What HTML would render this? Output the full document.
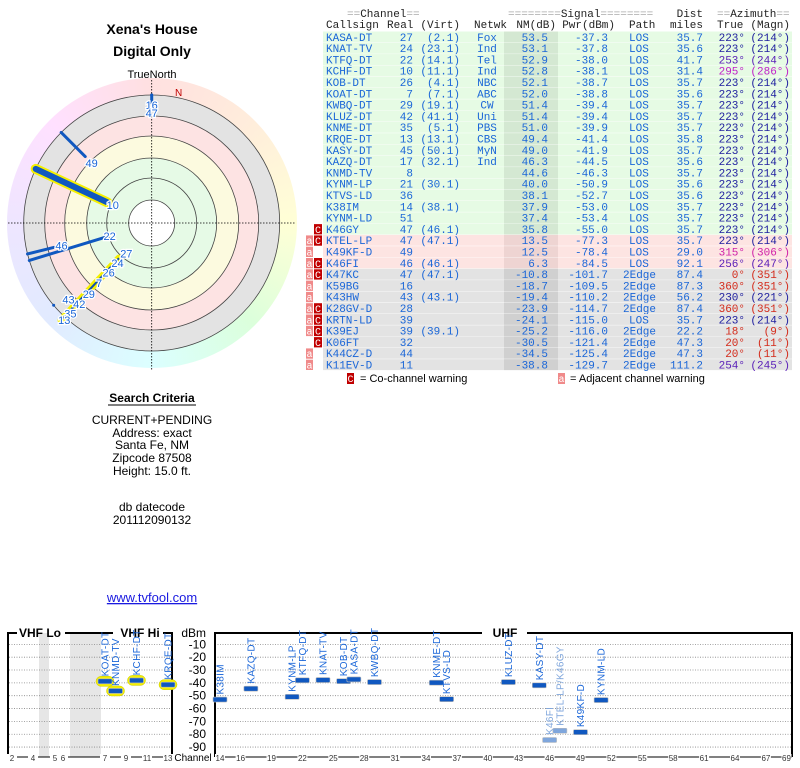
<!DOCTYPE html>
<html><head><meta charset="utf-8"><style>
body{margin:0;width:800px;height:768px;position:relative;background:#fff;overflow:hidden;font-family:"Liberation Sans",sans-serif}
svg{position:absolute;left:0;top:0}
</style></head><body>
<div style="position:absolute;left:6.7px;top:78px;width:290px;height:290px;border-radius:50%;background:conic-gradient(hsl(0,100%,94%),hsl(30,100%,93%),hsl(60,100%,92%),hsl(120,100%,93%),hsl(180,100%,93%),hsl(220,100%,94%),hsl(260,100%,95%),hsl(300,100%,94%),hsl(360,100%,94%))"></div>
<svg id="s" width="800" height="768" xmlns="http://www.w3.org/2000/svg">
<g font-weight="bold" font-size="14" text-anchor="middle">
<text x="152" y="34">Xena's House</text>
<text x="152" y="56">Digital Only</text>
</g>
<text x="152" y="78" font-size="11" text-anchor="middle">TrueNorth</text>
<g id="polar"></g>
<g font-size="12" text-anchor="middle">
<text x="152" y="402" font-weight="bold">Search Criteria</text>
<line x1="108" y1="405" x2="196" y2="405" stroke="#000" stroke-width="1"/>
<text x="152" y="424">CURRENT+PENDING</text>
<text x="152" y="437">Address: exact</text>
<text x="152" y="449">Santa Fe, NM</text>
<text x="152" y="462">Zipcode 87508</text>
<text x="152" y="475">Height: 15.0 ft.</text>
<text x="152" y="511">db datecode</text>
<text x="152" y="524">201112090132</text>
</g>
<a><text x="152" y="602" font-size="13" fill="#1a1ae0" text-anchor="middle" text-decoration="underline">www.tvfool.com</text></a>
<g id="table"></g>
<g id="spec"></g>
</svg>
<script>
// ---- table data ----
const callsigns=["KASA-DT","KNAT-TV","KTFQ-DT","KCHF-DT","KOB-DT","KOAT-DT","KWBQ-DT","KLUZ-DT","KNME-DT","KRQE-DT","KASY-DT","KAZQ-DT","KNMD-TV","KYNM-LP","KTVS-LD","K38IM","KYNM-LD","K46GY","KTEL-LP","K49KF-D","K46FI","K47KC","K59BG","K43HW","K28GV-D","KRTN-LD","K39EJ","K06FT","K44CZ-D","K11EV-D"];
const realCh=[27,24,22,10,26,7,29,42,35,13,45,17,8,21,36,14,51,47,47,49,46,47,16,43,28,39,39,32,44,11];
const virtCh=["2.1","23.1","14.1","11.1","4.1","7.1","19.1","41.1","5.1","13.1","50.1","32.1","","30.1","","38.1","","46.1","47.1","","46.1","47.1","","43.1","","","39.1","","",""];
const netwk=["Fox","Ind","Tel","Ind","NBC","ABC","CW","Uni","PBS","CBS","MyN","Ind","","","","","","","","","","","","","","","","","",""];
const nmDb=[53.5,53.1,52.9,52.8,52.1,52.0,51.4,51.4,51.0,49.4,49.0,46.3,44.6,40.0,38.1,37.9,37.4,35.8,13.5,12.5,6.3,-10.8,-18.7,-19.4,-23.9,-24.1,-25.2,-30.5,-34.5,-38.8];
const pwrDbm=[-37.3,-37.8,-38.0,-38.1,-38.7,-38.8,-39.4,-39.4,-39.9,-41.4,-41.9,-44.5,-46.3,-50.9,-52.7,-53.0,-53.4,-55.0,-77.3,-78.4,-84.5,-101.7,-109.5,-110.2,-114.7,-115.0,-116.0,-121.4,-125.4,-129.7];
const pathT=["LOS","LOS","LOS","LOS","LOS","LOS","LOS","LOS","LOS","LOS","LOS","LOS","LOS","LOS","LOS","LOS","LOS","LOS","LOS","LOS","LOS","2Edge","2Edge","2Edge","2Edge","LOS","2Edge","2Edge","2Edge","2Edge"];
const distMi=[35.7,35.6,41.7,31.4,35.7,35.6,35.7,35.7,35.7,35.8,35.7,35.6,35.7,35.6,35.6,35.7,35.7,35.7,35.7,29.0,92.1,87.4,87.3,56.2,87.4,35.7,22.2,47.3,47.3,111.2];
const azTrue=[223,223,253,295,223,223,223,223,223,223,223,223,223,223,223,223,223,223,223,315,256,0,360,230,360,223,18,20,20,254];
const azMagn=[214,214,244,286,214,214,214,214,214,214,214,214,214,214,214,214,214,214,214,306,247,351,351,221,351,214,9,11,11,245];
const coWarn=[0,0,0,0,0,0,0,0,0,0,0,0,0,0,0,0,0,1,1,0,1,1,0,0,1,1,1,1,0,0];
const adjWarn=[0,0,0,0,0,0,0,0,0,0,0,0,0,0,0,0,0,0,1,1,1,1,1,1,1,1,1,0,1,1];

const NS="http://www.w3.org/2000/svg";
function mk(tag,attrs,parent,txt){const e=document.createElementNS(NS,tag);for(const k in attrs)e.setAttribute(k,attrs[k]);if(txt!==undefined)e.textContent=txt;parent.appendChild(e);return e;}
function azColor(a){if(a<=30||a>=340)return"#d42a1a";if(a>=300)return"#d020a8";if(a>=280)return"#c020c8";if(a>=240)return"#5a20b8";return"#2020a0";}

const T=document.getElementById('table');
const rowTop=31.5,rowH=11.3;
const mono='"Liberation Mono",monospace';
function hdr(x,y,parts,anchor){const t=mk('text',{x:x,y:y,'font-family':mono,'font-size':11,'text-anchor':anchor||'start'},T);parts.forEach(p=>{mk('tspan',{fill:p[1]},t,p[0]);});return t;}
const G="#aaa",K="#222";
let h;
h=hdr(347,17,[["==",G],["Channel",K],["==",G]]);
h=hdr(508,17,[["========",G],["Signal",K],["========",G]]);
h=hdr(703,17,[["Dist",K]],'end');
h=hdr(717,17,[["==",G],["Azimuth",K],["==",G]]);
const h2=[["Callsign",326,'start'],["Real",387,'start'],["(Virt)",460,'end'],["Netwk",474,'start'],["NM(dB)",556,'end'],["Pwr(dBm)",615,'end'],["Path",629,'start'],["miles",703,'end'],["True",717,'start'],["(Magn)",790,'end']];
h2.forEach(c=>{const e=mk('text',{x:c[1],y:28,'font-family':mono,'font-size':11,'text-anchor':c[2],fill:K},T,c[0]);});

callsigns.forEach((cs,i)=>{
  const y=rowTop+i*rowH;
  const g=mk('g',{},T);
  
  
  const kind=i<18?0:(i<21?1:2);
  const bg=["#e6fbe4","#fde4e2","#e3e3e3"][kind], nmBg=["#d4e8d2","#eed4d2","#d0d0d0"][kind];
  mk('rect',{x:323,y:y,width:469,height:rowH,fill:bg},g);
  mk('rect',{x:504,y:y,width:54,height:rowH,fill:nmBg},g);
  mk('line',{x1:323,x2:792,y1:y+rowH,y2:y+rowH,stroke:"#fff","stroke-width":0.8},g);
  const by=y+9.3, col="#1a66d8";
  const tx=(x,s,a,c)=>mk('text',{x:x,y:by,'font-family':mono,'font-size':11,'text-anchor':a,fill:c||col},g,s);
  tx(326,cs,'start');
  tx(413,String(realCh[i]),'end');
  if(virtCh[i])tx(460,'('+virtCh[i]+')','end');
  if(netwk[i])tx(487,netwk[i],'middle');
  tx(548,nmDb[i].toFixed(1),'end');
  tx(608,pwrDbm[i].toFixed(1),'end');
  tx(pathT[i]==="LOS"?629:623,pathT[i],'start');
  tx(703,distMi[i].toFixed(1),'end');
  const ac=azColor(azTrue[i]);
  tx(745,azTrue[i]+'°','end',ac);
  tx(790,'('+azMagn[i]+'°)','end',ac);
  if(coWarn[i]){const w=mk('g',{},g);
    mk('rect',{x:314,y:y+0.5,width:8,height:rowH-1,fill:"#c00000"},w);mk('text',{x:318,y:by,'font-size':10,'font-family':mono,'text-anchor':'middle',fill:'#fff'},w,'C');}
  if(adjWarn[i]){const w=mk('g',{},g);
    mk('rect',{x:306,y:y+0.5,width:7,height:rowH-1,fill:"#f08a8a"},w);mk('text',{x:309.5,y:by,'font-size':10,'font-family':mono,'text-anchor':'middle',fill:'#fff'},w,'a');}
});
const L=mk('g',{},T);
mk('rect',{x:347,y:373,width:7,height:11,fill:"#c00000"},L);mk('text',{x:350.5,y:382,'font-size':10,'font-family':mono,'text-anchor':'middle',fill:'#fff'},L,'C');
mk('text',{x:360,y:382,'font-size':11},L,'= Co-channel warning');
mk('rect',{x:558,y:373,width:7,height:11,fill:"#f08a8a"},L);mk('text',{x:561.5,y:382,'font-size':10,'font-family':mono,'text-anchor':'middle',fill:'#fff'},L,'a');
mk('text',{x:570,y:382,'font-size':11},L,'= Adjacent channel warning');

// ---- polar data ----
const polarCh=[10,49,46,22,43,16,47];
const polarAz=[295,315,256,253,230,0,0];
const polarNm=[52.8,12.5,6.3,52.9,-19.4,-18.7,-10.8];
const polarWidth=[6,3,3,3,3,3,3];
const polarHi=[1,0,0,0,0,0,0];
const polarLabelR=[43,85,93,44,119,118,110];
const clusterCh=[27,24,26,7,29,42,35,13];
const clusterLabelR=[46,59,72,86,101,115,128,137];
const clusterAz=223;
const P=document.getElementById('polar');
const cx=151.7,cy=223;
const rOf=nm=>Math.min(128,108-1.12*nm);
const pt=(az,r)=>[cx+r*Math.sin(az*Math.PI/180),cy-r*Math.cos(az*Math.PI/180)];
[[128,"#e3e3e3"],[107,"#fde3e3"],[87,"#fcfadf"],[65,"#e6fae6"],[23,"#ffffff"]].forEach(c=>{const e=mk('circle',{cx:cx,cy:cy,r:c[0],fill:c[1]},P);});
[23,45,65,87,107,128].forEach(r=>{const e=mk('circle',{cx:cx,cy:cy,r:r,fill:'none',stroke:'#444','stroke-width':0.8},P);});
let e=mk('line',{x1:8,x2:296,y1:cy,y2:cy,stroke:'#000','stroke-width':0.8,'stroke-dasharray':'1.5,1.5'},P);
e=mk('line',{x1:cx,x2:cx,y1:80,y2:370,stroke:'#000','stroke-width':0.8,'stroke-dasharray':'1.5,1.5'},P);
e=mk('text',{x:175,y:96,'font-size':10,fill:'#c00000'},P,'N');
function lbl(x,y,s){const t=mk('text',{x:x,y:y+4,'font-size':11,'text-anchor':'middle',fill:'#1a66d8',stroke:'#fff','stroke-width':2.5,'paint-order':'stroke'},P,s);}
{const a=pt(clusterAz,rOf(53.5)),b=pt(clusterAz,133);
 e=mk('line',{x1:a[0],y1:a[1],x2:b[0],y2:b[1],stroke:'#f5f000','stroke-width':7,'stroke-linecap':'round'},P);
 e=mk('line',{x1:a[0],y1:a[1],x2:b[0],y2:b[1],stroke:'#1050b0','stroke-width':2},P);}
polarCh.forEach((ch,i)=>{
  const a=pt(polarAz[i],rOf(polarNm[i])),b=pt(polarAz[i],128);
  if(polarHi[i]){e=mk('line',{x1:a[0],y1:a[1],x2:b[0],y2:b[1],stroke:'#f5f000','stroke-width':polarWidth[i]+4,'stroke-linecap':'round'},P);}
  e=mk('line',{x1:a[0],y1:a[1],x2:b[0],y2:b[1],stroke:'#1058c0','stroke-width':polarWidth[i],'stroke-linecap':'round'},P);
  
  
});
polarCh.forEach((ch,i)=>{const p=pt(polarAz[i],polarLabelR[i]);lbl(p[0]+(ch===43?8:0),p[1],String(ch));});
clusterCh.forEach((ch,i)=>{const p=pt(clusterAz,clusterLabelR[i]);lbl(p[0]+6,p[1]-3,String(ch));});

// ---- spectrum data ----
const dbTicks=[-10,-20,-30,-40,-50,-60,-70,-80,-90];
const vhfTicks=[2,4,5,6,7,9,11,13];
const uhfTicks=[14,16,19,22,25,28,31,34,37,40,43,46,49,52,55,58,61,64,67,69];
const markNames=["KOAT-DT","KNMD-TV","KCHF-DT","KRQE-DT","K38IM","KAZQ-DT","KYNM-LP","KTFQ-DT","KNAT-TV","KOB-DT","KASA-DT","KWBQ-DT","KNME-DT","KTVS-LD","KLUZ-DT","KASY-DT","K46FI","KTEL-LP/K46GY","K49KF-D","KYNM-LD"];
const markCh=[7,8,10,13,14,17,21,22,24,26,27,29,35,36,42,45,46,47,49,51];
const markDbm=[-38.8,-46.3,-38.1,-41.4,-53.0,-44.5,-50.9,-38.0,-37.8,-38.7,-37.3,-39.4,-39.9,-52.7,-39.4,-41.9,-84.5,-77.3,-78.4,-53.4];
const markHi=[1,1,1,1,0,0,0,0,0,0,0,0,0,0,0,0,0,0,0,0];
const markWeak=[0,0,0,0,0,0,0,0,0,0,0,0,0,0,0,0,1,1,0,0];
const S=document.getElementById('spec');
const yDb=v=>631.5-v*1.284;
const xCh=ch=>{if(ch<=4)return 12+(ch-2)*10.5;if(ch<=6)return 55+(ch-5)*8;if(ch<=13)return 105+(ch-7)*10.5;return 220+(ch-14)*10.3;};
[[39,10],[70,31]].forEach(b=>{e=mk('rect',{x:b[0],y:633,width:b[1],height:124,fill:'#e6e6e6'},S);});
dbTicks.forEach(v=>{const y=yDb(v);
  e=mk('line',{x1:9,x2:171,y1:y,y2:y,stroke:'#888','stroke-width':0.8,'stroke-dasharray':'1,1.5'},S);
  e=mk('line',{x1:215,x2:791,y1:y,y2:y,stroke:'#888','stroke-width':0.8,'stroke-dasharray':'1,1.5'},S);
  e=mk('text',{x:206,y:y+4,'font-size':12,'text-anchor':'end'},S,String(v));});
e=mk('text',{x:206,y:637,'font-size':12,'text-anchor':'end'},S,'dBm');
const fr=mk('g',{stroke:'#000','stroke-width':2,fill:'none'},S);
mk('path',{d:'M17,633 H8 V757 M65,633 H113 M163,633 H172 V757'},fr);
mk('path',{d:'M215,757 V633 H482 M527,633 H792 V757'},fr);
mk('line',{x1:8,x2:172,y1:757,y2:757,'stroke-width':1},fr);
mk('line',{x1:215,x2:792,y1:757,y2:757,'stroke-width':1},fr);
[["VHF Lo",40],["VHF Hi",140],["UHF",505]].forEach(b=>{e=mk('text',{x:b[1],y:637,'font-size':12,'font-weight':'bold','text-anchor':'middle'},S,b[0]);});
e=mk('text',{x:193,y:761,'font-size':10,'text-anchor':'middle'},S,'Channel');
vhfTicks.concat(uhfTicks).forEach(ch=>{const x=xCh(ch);
  mk('rect',{x:x-5,y:754,width:10,height:7,fill:'#fff'},S);
  e=mk('text',{x:x,y:761,'font-size':8,'text-anchor':'middle',fill:'#333'},S,String(ch));});
markCh.forEach((ch,i)=>{const x=xCh(ch),y=yDb(markDbm[i]);
  const g=mk('g',{},S);
  
  
  if(markHi[i])mk('rect',{x:x-9,y:y-5,width:18,height:10,rx:5,fill:'#f5f000',stroke:'#c8c800','stroke-width':0.5},g);
  const c=markWeak[i]?'#7fa6dc':'#1058c0';
  mk('rect',{x:x-7,y:y-2.5,width:14,height:5,rx:1,fill:c,stroke:'#bbb','stroke-width':0.6},g);
  mk('text',{x:0,y:0,'font-size':10,fill:markWeak[i]?'#7fa6dc':'#1a66d8','letter-spacing':0.3,transform:`translate(${x+3.5},${y-5}) rotate(-90)`},g,markNames[i]);
});
</script>
</body></html>
